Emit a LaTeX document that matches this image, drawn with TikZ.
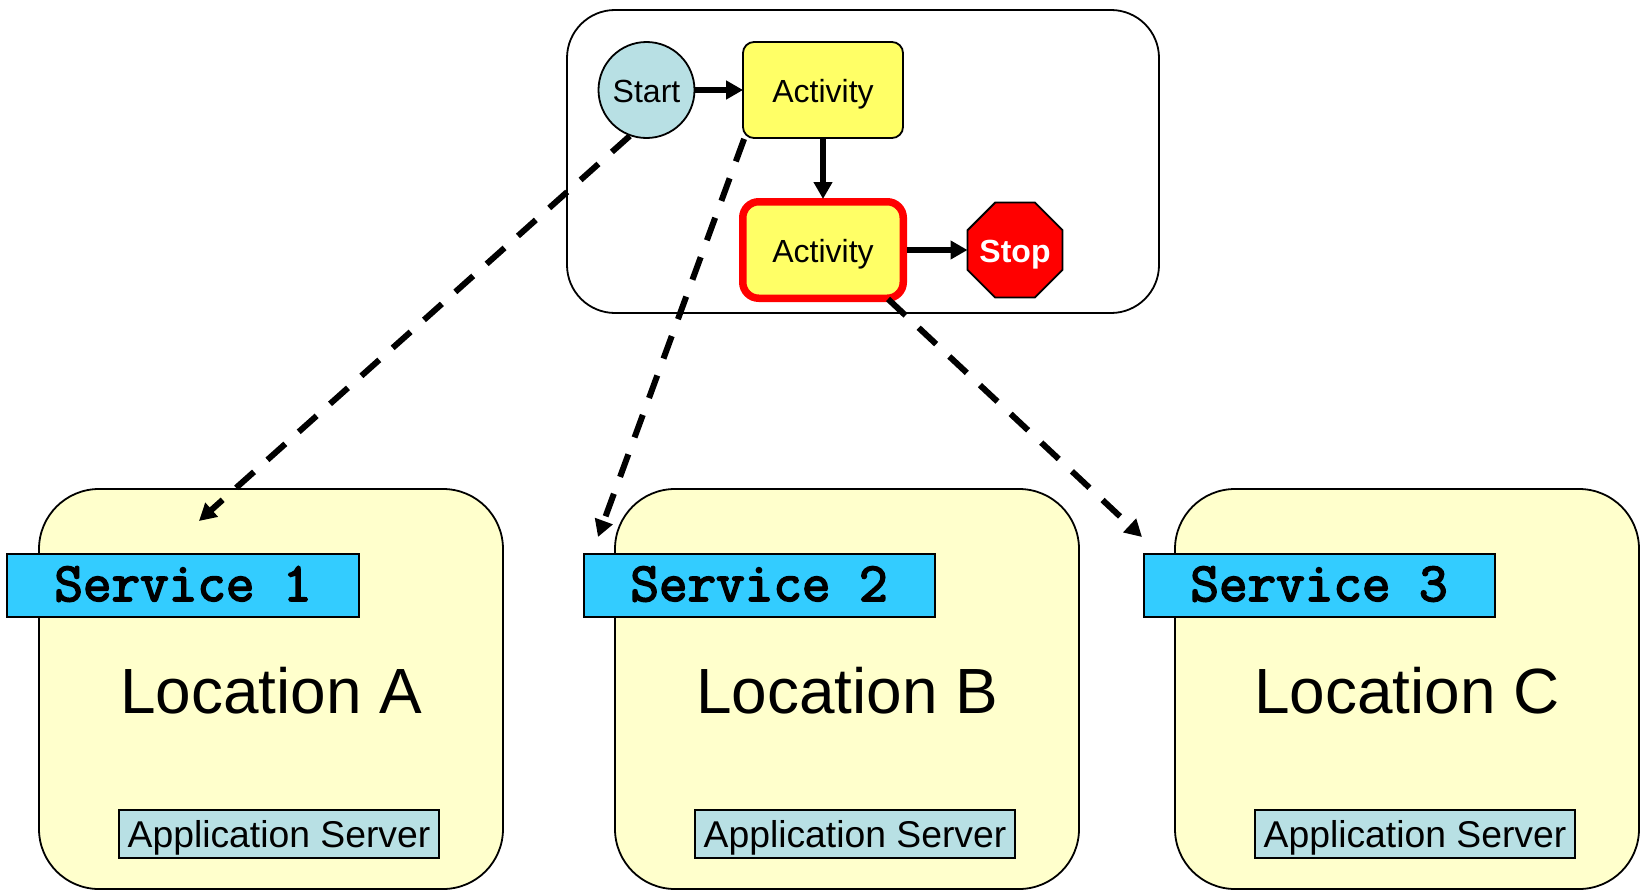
\documentclass[tikz,border=0pt]{standalone}
\usepackage{fontspec}
\setmainfont{Liberation Sans}
\newfontfamily\svcfont[FakeBold=3]{Latin Modern Mono}
\usetikzlibrary{arrows.meta,shapes.geometric}
\definecolor{paleblue}{HTML}{B8E0E4}
\definecolor{actyellow}{HTML}{FFFF66}
\definecolor{locyellow}{HTML}{FFFFCC}
\definecolor{svcblue}{HTML}{33CCFF}
\tikzset{
  x=1bp,y=-1bp,
  fsz/.style={font=\fontsize{#1bp}{#1bp}\selectfont},
  groupbox/.style={draw,line width=1.8bp,rounded corners=48bp,minimum width=592bp,minimum height=303bp,inner sep=0bp},
  startnode/.style={circle,draw,line width=1.8bp,fill=paleblue,minimum size=96bp,inner sep=0bp,fsz=32,text height=24.5bp,text depth=0bp},
  actbox/.style={draw,line width=1.8bp,fill=actyellow,rounded corners=11bp,minimum width=160bp,minimum height=96bp,inner sep=0bp,fsz=32,text height=24.5bp,text depth=0bp},
  hotbox/.style={actbox,draw=red,line width=7.5bp,rounded corners=16bp,minimum width=160.5bp,minimum height=96.5bp},
  stopnode/.style={regular polygon,regular polygon sides=8,draw,line width=1.8bp,fill=red,minimum size=103bp,inner sep=0bp},
  stoptext/.style={inner sep=0bp,text=white,font=\fontsize{32bp}{32bp}\selectfont\bfseries,text height=24bp,text depth=0bp},
  locbox/.style={draw,line width=1.8bp,fill=locyellow,rounded corners=60bp,minimum width=464bp,minimum height=400bp,inner sep=0bp,fsz=63.9,text height=48.6bp,text depth=0bp},
  svcbox/.style={draw,line width=2bp,fill=svcblue,minimum width=351bp,minimum height=63bp,inner sep=0bp,font=\fontsize{55.5bp}{55.5bp}\selectfont\svcfont,text height=31bp,text depth=0bp},
  appbox/.style={draw,line width=2bp,fill=paleblue,minimum width=320bp,minimum height=47.5bp,inner sep=0bp,fsz=37.3,text height=27bp,text depth=0bp},
  flow/.style={line width=6bp,shorten >=-1bp,-{Triangle[length=17bp,width=18bp]}},
  deploy/.style={line width=6bp,dash pattern=on 24bp off 18bp,-{Triangle[length=17bp,width=18bp]}},
}
\begin{document}
\begin{tikzpicture}
\useasboundingbox (0,0) rectangle (1643,892);
\node[groupbox] (group) at (863,161.5) {};
\node[locbox] (locA) at (271,689) {Location A};
\node[locbox] (locB) at (847,689) {Location B};
\node[locbox] (locC) at (1407,689) {Location C};
\node[svcbox] (svc1) at (183,585.5) {Service 1};
\node[svcbox] (svc2) at (759,585.5) {Service 2};
\node[svcbox] (svc3) at (1319,585.5) {Service 3};
\node[appbox] (app1) at (279,834) {Application Server};
\node[appbox] (app2) at (855,834) {Application Server};
\node[appbox] (app3) at (1415,834) {Application Server};
\node[startnode] (start) at (646.5,90) {Start};
\node[actbox] (act1) at (823,90) {Activity};
\node[hotbox] (act2) at (823,250) {Activity};
\node[stopnode,label={[stoptext]center:Stop}] (stop) at (1015,250) {};
\draw[flow] (start) -- (act1);
\draw[flow] (act1) -- (act2);
\draw[flow] (act2) -- (stop);
\coordinate (endA) at (199,521);
\coordinate (endB) at (598,537);
\coordinate (endC) at (1142,537);
\draw[deploy] (start.-110) -- (endA);
\draw[deploy] ([xshift=2bp]act1.south west) -- (endB);
\draw[deploy] ([xshift=-19bp,yshift=3bp]act2.south east) -- (endC);
\end{tikzpicture}
\end{document}
